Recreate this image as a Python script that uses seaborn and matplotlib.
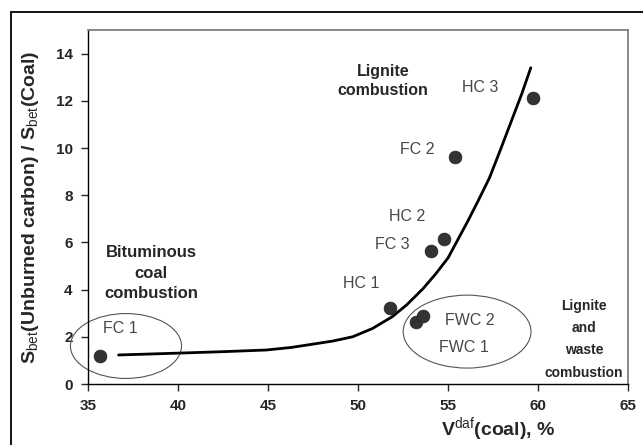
import matplotlib
matplotlib.use('Agg')
import matplotlib.pyplot as plt
from matplotlib.patches import Ellipse, Rectangle
import seaborn as sns
import pandas as pd

# ---- data ----
samples = ['FC 1', 'HC 1', 'FWC 1', 'FWC 2', 'FC 3', 'HC 2', 'FC 2', 'HC 3']
v_daf = [35.67, 51.8, 53.2, 53.6, 54.06, 54.8, 55.4, 59.7]
s_ratio = [1.19, 3.24, 2.63, 2.88, 5.64, 6.14, 9.62, 12.1]

# fitted trend line
curve_x = [36.7, 38.4, 40.1, 42.5, 44.9, 46.3, 47.5, 48.6, 49.7, 50.8, 51.9, 52.7,
           53.6, 54.3, 55.0, 55.5, 56.1, 56.7, 57.3, 57.9, 58.6, 59.1, 59.6]
curve_y = [1.23, 1.27, 1.31, 1.37, 1.44, 1.55, 1.69, 1.82, 2.0, 2.35, 2.85, 3.35,
           4.03, 4.65, 5.34, 6.05, 6.9, 7.8, 8.73, 9.9, 11.3, 12.3, 13.4]

x_ticks = [35, 40, 45, 50, 55, 60, 65]
y_ticks = [0, 2, 4, 6, 8, 10, 12, 14]

df = pd.DataFrame({'sample': samples, 'v': v_daf, 's': s_ratio})
df_fit = pd.DataFrame({'v': curve_x, 's': curve_y})

sns.set_style('white')
plt.rcParams['font.family'] = ['Liberation Sans', 'DejaVu Sans']
plt.rcParams['mathtext.fontset'] = 'custom'
plt.rcParams['mathtext.rm'] = 'Liberation Sans'
plt.rcParams['mathtext.bf'] = 'Liberation Sans:bold'

fig = plt.figure(figsize=(6.43, 4.45), dpi=100)
ax = fig.add_axes([88 / 643, 1 - 384 / 445, 540 / 643, 354 / 445])

# outer frame of the figure
fig.patches.append(Rectangle((11 / 643, -0.05), 1.0, 1 - 12 / 445 + 0.05,
                             transform=fig.transFigure, fill=False,
                             edgecolor='black', linewidth=1.3))

sns.lineplot(data=df_fit, x='v', y='s', ax=ax, color='black', linewidth=2.0,
             sort=False, estimator=None)
sns.scatterplot(data=df, x='v', y='s', ax=ax, color='#333333', s=85,
                edgecolor='#222222', linewidth=0.5, zorder=5)

# sample labels
label_pos = {
    'FC 1': (36.78, 2.35), 'HC 1': (50.17, 4.24), 'FC 3': (51.9, 5.89),
    'HC 2': (52.75, 7.08), 'FC 2': (53.3, 9.92), 'HC 3': (56.8, 12.58),
    'FWC 2': (56.2, 2.67), 'FWC 1': (55.9, 1.53),
}
for name, (lx, ly) in label_pos.items():
    ax.text(lx, ly, name, ha='center', va='center', fontsize=11.5, color='#474747')

# region labels
ax.text(38.5, 4.7, 'Bituminous\ncoal\ncombustion', ha='center', va='center',
        fontsize=12, fontweight='bold', linespacing=1.45)
ax.text(51.4, 12.84, 'Lignite\ncombustion', ha='center', va='center',
        fontsize=11.5, fontweight='bold', linespacing=1.3)
ax.text(62.55, 1.9, 'Lignite\nand\nwaste\ncombustion', ha='center', va='center',
        fontsize=10, fontweight='bold', linespacing=1.75)

# ellipses round groups
ax.add_patch(Ellipse((37.11, 1.61), 6.17, 2.75, fill=False, edgecolor='#555555',
                     linewidth=0.8, clip_on=False))
ax.add_patch(Ellipse((56.06, 2.22), 7.1, 3.09, fill=False, edgecolor='#555555',
                     linewidth=0.8))

ax.set_xlim(35, 65)
ax.set_ylim(0, 15)
ax.set_xticks(x_ticks)
ax.set_yticks(y_ticks)
ax.tick_params(axis='both', direction='out', length=5, width=1, labelsize=11,
               left=True, bottom=True, pad=6)
for lab in ax.get_xticklabels() + ax.get_yticklabels():
    lab.set_fontweight('bold')

ax.set_xlabel(r'$\mathbf{V}^{\mathrm{daf}}$(coal), %', fontsize=14, fontweight='bold')
ax.xaxis.label.set_va('center')
ax.xaxis.set_label_coords(0.76, -0.128)
ax.set_ylabel(r'$\mathbf{S}_{\mathrm{bet}}$(Unburned carbon) / $\mathbf{S}_{\mathrm{bet}}$(Coal)',
              fontsize=14, fontweight='bold')
ax.yaxis.label.set_va('center')
ax.yaxis.set_label_coords(-(88 - 31) / 540, 0.5)

for side in ['left', 'bottom']:
    ax.spines[side].set_color('black')
    ax.spines[side].set_linewidth(1.0)
for side in ['top', 'right']:
    ax.spines[side].set_color('#808080')
    ax.spines[side].set_linewidth(1.3)

fig.savefig('out.png', dpi=100)
